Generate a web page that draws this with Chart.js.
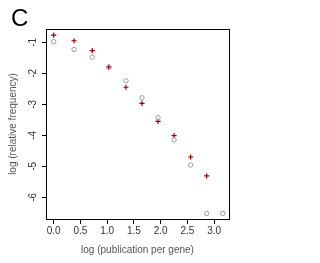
<!DOCTYPE html>
<html>
<head>
<meta charset="utf-8">
<script src="https://cdn.jsdelivr.net/npm/chart.js@4"></script>
<style>
  body { margin: 0; background: #fff; }
  canvas { display: block; }
</style>
</head>
<body>
<canvas id="myChart" width="320" height="263"></canvas>
<script>
// log(publication per gene) positions
const xPlus = [0.0, 0.38, 0.72, 1.03, 1.35, 1.65, 1.95, 2.25, 2.56, 2.86];
const yPlus = [-0.77, -0.95, -1.27, -1.79, -2.45, -2.97, -3.55, -4.01, -4.70, -5.31];
const xCircle = [0.0, 0.38, 0.72, 1.03, 1.35, 1.65, 1.95, 2.25, 2.56, 2.86, 3.16];
const yCircle = [-0.98, -1.23, -1.48, -1.81, -2.24, -2.79, -3.43, -4.15, -4.96, -6.52, -6.52];
const xTicks = [0, 0.5, 1, 1.5, 2, 2.5, 3];
const yTicks = [-1, -2, -3, -4, -5, -6];

const font = 'Liberation Sans, Arial, sans-serif';

const boxPlugin = {
    id: 'rbox',
    afterDraw(chart) {
        const c = chart.ctx, a = chart.chartArea;
        c.save();
        c.strokeStyle = '#000';
        c.lineWidth = 1;
        c.strokeRect(Math.round(a.left) + 0.5, Math.round(a.top) + 0.5,
                     Math.round(a.right - a.left), Math.round(a.bottom - a.top));
        // rotated y tick labels, R style
        const ys = chart.scales.y;
        c.fillStyle = '#333';
        c.font = '10px ' + font;
        c.textAlign = 'center';
        c.textBaseline = 'middle';
        yTicks.forEach(v => {
            const py = ys.getPixelForValue(v);
            c.save();
            c.translate(33, py);
            c.rotate(-Math.PI / 2);
            c.fillText(String(v), 0, 0);
            c.restore();
        });
        // panel letter
        c.fillStyle = '#000';
        c.font = '24px ' + font;
        c.textAlign = 'left';
        c.textBaseline = 'alphabetic';
        c.fillText('C', 11, 26);
        c.restore();
    }
};

const ctx = document.getElementById('myChart').getContext('2d');
const myChart = new Chart(ctx, {
    type: 'scatter',
    data: {
        datasets: [{
            label: 'circles',
            data: xCircle.map((x, i) => ({x: x, y: yCircle[i]})),
            pointStyle: 'circle',
            pointRadius: 2.2,
            borderColor: '#9a9a9a',
            backgroundColor: 'rgba(0,0,0,0)',
            borderWidth: 1
        }, {
            label: 'plus',
            data: xPlus.map((x, i) => ({x: x, y: yPlus[i]})),
            pointStyle: 'cross',
            pointRadius: 2.6,
            borderColor: '#9a0000',
            backgroundColor: '#9a0000',
            borderWidth: 1.2
        }]
    },
    plugins: [boxPlugin],
    options: {
        responsive: false,
        animation: false,
        events: [],
        layout: { padding: { top: 29, right: 91, left: 0, bottom: 0 } },
        plugins: { legend: { display: false }, tooltip: { enabled: false } },
        scales: {
            x: {
                type: 'linear',
                min: -0.144,
                max: 3.277,
                afterBuildTicks: s => { s.ticks = xTicks.map(v => ({value: v})); },
                afterFit: s => { s.height = 44; },
                grid: { drawOnChartArea: false, drawTicks: true, tickLength: 5, color: '#000' },
                border: { display: true, color: '#000', width: 1 },
                ticks: {
                    color: '#333',
                    font: { family: font, size: 10 },
                    padding: 1,
                    maxRotation: 0,
                    callback: v => v.toFixed(1)
                },
                title: {
                    display: true,
                    text: 'log (publication per gene)',
                    color: '#555',
                    font: { family: font, size: 10 },
                    padding: { top: 0, bottom: 7 }
                }
            },
            y: {
                type: 'linear',
                min: -6.70,
                max: -0.571,
                afterBuildTicks: s => { s.ticks = yTicks.map(v => ({value: v})); },
                afterFit: s => { s.width = 46; },
                grid: { drawOnChartArea: false, drawTicks: true, tickLength: 4, color: '#000' },
                border: { display: true, color: '#000', width: 1 },
                ticks: { display: false },
                title: {
                    display: true,
                    text: 'log (relative frequency)',
                    color: '#555',
                    font: { family: font, size: 10 },
                    padding: { top: 7, bottom: 0 }
                }
            }
        }
    }
});
</script>
</body>
</html>
